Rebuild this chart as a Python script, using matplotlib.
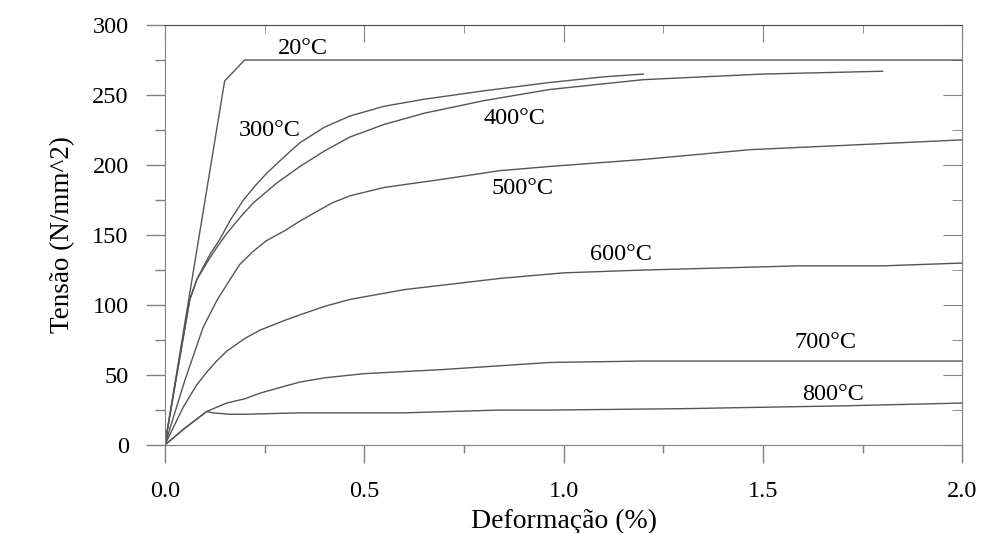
import numpy as np
import matplotlib.pyplot as plt
from matplotlib.ticker import MultipleLocator

plt.rcParams['font.family'] = ['Liberation Serif', 'DejaVu Serif']

# --------------------------------------------------------
# curves: strain (%) vs stress (N/mm^2)
# --------------------------------------------------------
x20 = [0, 0.15, 0.2, 2.0]
y20 = [0, 260, 275, 275]

x300 = [0, 0.03, 0.0627, 0.08, 0.096, 0.115, 0.138, 0.165, 0.197, 0.226, 0.255,
        0.3, 0.339, 0.4, 0.464, 0.55, 0.65, 0.8, 0.966, 1.1, 1.2]
y300 = [0, 50, 104, 118, 127, 137, 147, 161, 175, 185, 194,
        206, 216, 227, 235, 242, 247, 253, 259, 263, 265]

x400 = [0, 0.03, 0.0627, 0.08, 0.105, 0.13, 0.155, 0.19, 0.222, 0.28, 0.339,
        0.4, 0.464, 0.55, 0.65, 0.8, 0.966, 1.2, 1.5, 1.8]
y400 = [0, 50, 104, 118, 130, 141, 151, 163, 173, 187, 199,
        210, 220, 229, 237, 246, 254, 261, 265, 267]

x500 = [0, 0.05, 0.096, 0.13, 0.163, 0.188, 0.22, 0.255, 0.3, 0.339, 0.376,
        0.42, 0.464, 0.55, 0.7, 0.84, 0.966, 1.2, 1.468, 1.7, 2.0]
y500 = [0, 46, 84, 103, 118, 129, 138, 146, 153, 160, 166,
        173, 178, 184, 190, 196, 199, 204, 211, 214, 218]

x600 = [0, 0.046, 0.08, 0.105, 0.13, 0.155, 0.2, 0.238, 0.3, 0.339, 0.4, 0.464, 0.6,
        0.84, 1.0, 1.2, 1.59, 1.8, 2.0]
y600 = [0, 27, 43, 52, 60, 67, 76, 82, 89, 93, 99, 104, 111,
        119, 123, 125, 128, 128, 130]

x700 = [0, 0.05, 0.105, 0.13, 0.155, 0.2, 0.238, 0.3, 0.339, 0.4, 0.5, 0.7,
        0.966, 1.2, 1.6, 2.0]
y700 = [0, 12, 24, 27, 30, 33, 37, 42, 45, 48, 51, 54,
        59, 60, 60, 60]

x800 = [0, 0.05, 0.105, 0.12, 0.163, 0.2, 0.339, 0.6, 0.84, 0.966, 1.3, 1.7, 2.0]
y800 = [0, 12, 24, 23, 22, 22, 23, 23, 25, 25, 26, 28, 30]

curves = [(x20, y20), (x300, y300), (x400, y400), (x500, y500),
          (x600, y600), (x700, y700), (x800, y800)]

labels = ['20°C', '300°C', '400°C', '500°C', '600°C', '700°C', '800°C']
label_x = [0.346, 0.263, 0.878, 0.898, 1.144, 1.656, 1.676]
label_y = [283, 225, 233, 183, 136, 73, 36]

# --------------------------------------------------------
# figure
# --------------------------------------------------------
fig = plt.figure(figsize=(9.81, 5.33), dpi=100)
ax = fig.add_axes([0.168, 0.165, 0.813, 0.788])

for cx, cy in curves:
    ax.plot(cx, cy, color='#555555', lw=1.0)

for t, tx, ty in zip(labels, label_x, label_y):
    ax.text(tx, ty, t, fontsize=17.5, ha='center', va='center')

ax.set_xlim(0, 2.0)
ax.set_ylim(0, 300)
ax.xaxis.set_major_locator(MultipleLocator(0.5))
ax.xaxis.set_minor_locator(MultipleLocator(0.25))
ax.yaxis.set_major_locator(MultipleLocator(50))
ax.yaxis.set_minor_locator(MultipleLocator(25))
ax.set_xticks([0, 0.5, 1.0, 1.5, 2.0], ['0.0', '0.5', '1.0', '1.5', '2.0'])

spine_c = '#808080'
for s in ax.spines.values():
    s.set_color(spine_c)
ax.spines['top'].set_color('#444444')

ax.tick_params(axis='both', which='both', color=spine_c, labelsize=17.5, width=1)
ax.tick_params(axis='x', which='major', direction='out', length=13, pad=13)
ax.tick_params(axis='x', which='minor', direction='out', length=6)
ax.tick_params(axis='y', which='major', direction='out', length=14, pad=12)
ax.tick_params(axis='y', which='minor', direction='out', length=7)

# inward ticks on top and right
top = ax.secondary_xaxis('top')
top.xaxis.set_major_locator(MultipleLocator(0.5))
top.xaxis.set_minor_locator(MultipleLocator(0.25))
top.tick_params(which='major', direction='in', length=12, color=spine_c, labeltop=False)
top.tick_params(which='minor', direction='in', length=6, color=spine_c)
top.spines['top'].set_visible(False)

right = ax.secondary_yaxis('right')
right.yaxis.set_major_locator(MultipleLocator(50))
right.yaxis.set_minor_locator(MultipleLocator(25))
right.tick_params(which='major', direction='in', length=14, color=spine_c, labelright=False)
right.tick_params(which='minor', direction='in', length=7, color=spine_c)
right.spines['right'].set_visible(False)

ax.set_xlabel('Deformação (%)', fontsize=20, labelpad=5)
ax.set_ylabel('Tensão (N/mm^2)', fontsize=19.5, labelpad=12)

fig.savefig('out.png', dpi=100)
